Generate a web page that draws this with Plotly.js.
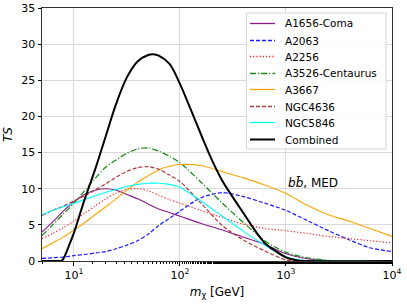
<!DOCTYPE html>
<html>
<head>
<meta charset="utf-8">
<script src="https://cdn.plot.ly/plotly-3.0.1.min.js"></script>
<style>html,body{margin:0;padding:0;background:#fff;}#chart{width:407px;height:305px;}</style>
</head>
<body>
<div id="chart"></div>
<script>
// Dark matter mass grid (GeV)
const mass = [5, 6.31, 7.94, 10, 12.6, 15.8, 20, 25.1, 31.6, 39.8, 50.1, 63.1, 79.4, 100, 158, 251, 398, 631, 1000, 1585, 2512, 3981, 6310, 10000];
const tsComa      = [4.0, 5.4, 6.9, 8.2, 9.2, 9.8, 10.0, 9.8, 9.2, 8.6, 7.9, 7.2, 6.7, 6.2, 5.2, 4.3, 3.3, 2.3, 1.0, 0.3, 0.05, 0, 0, 0];
const tsA2063     = [0.35, 0.45, 0.55, 0.75, 0.9, 1.1, 1.3, 1.7, 2.2, 2.8, 3.7, 4.9, 5.9, 6.9, 8.75, 9.45, 8.9, 8.0, 7.0, 5.6, 4.2, 2.9, 1.8, 1.3];
const tsA2256     = [3.1, 3.8, 4.6, 5.5, 6.6, 7.6, 8.6, 9.4, 9.9, 10.0, 9.7, 9.1, 8.5, 8.0, 7.0, 6.0, 5.1, 4.5, 4.2, 3.8, 3.4, 3.1, 2.8, 2.5];
const tsCentaurus = [3.5, 5.0, 6.5, 8.0, 9.7, 11.4, 13.0, 14.0, 14.9, 15.5, 15.65, 15.2, 14.5, 13.6, 10.9, 8.0, 5.3, 2.8, 1.2, 0.45, 0.1, 0, 0, 0];
const tsA3667     = [1.7, 2.5, 3.3, 4.3, 5.3, 6.4, 7.5, 8.6, 9.8, 10.9, 11.8, 12.6, 13.1, 13.35, 13.2, 12.35, 11.5, 10.5, 9.35, 7.7, 6.4, 5.5, 4.45, 3.4];
const tsNGC4636   = [6.3, 7.0, 7.6, 8.3, 9.0, 9.8, 10.7, 11.6, 12.4, 12.9, 13.05, 12.7, 11.9, 11.0, 8.0, 4.9, 2.9, 1.4, 0.15, 0, 0, 0, 0, 0];
const tsNGC5846   = [6.4, 7.0, 7.5, 8.0, 8.5, 9.0, 9.5, 9.9, 10.3, 10.6, 10.75, 10.75, 10.6, 10.2, 8.3, 6.2, 4.1, 2.2, 0.6, 0.05, 0, 0, 0, 0];
const massComb = [5, 6.31, 7.08, 7.59, 7.94, 8.91, 10, 12.6, 15.8, 20, 25.1, 31.6, 39.8, 50.1, 56.2, 63.1, 79.4, 100, 126, 158, 200, 251, 316, 398, 501, 631, 794, 1000, 1259, 1585, 10000];
const tsComb   = [0, 0, 0, 0, 0.3, 2.0, 3.9, 8.5, 12.6, 17.3, 21.8, 25.4, 27.6, 28.5, 28.6, 28.4, 27.3, 24.5, 21.0, 17.5, 14.0, 11.1, 8.8, 6.6, 4.4, 2.5, 1.4, 0.5, 0.1, 0, 0];

const names = ["A1656-Coma", "A2063", "A2256", "A3526-Centaurus", "A3667", "NGC4636", "NGC5846", "Combined"];
const series = [tsComa, tsA2063, tsA2256, tsCentaurus, tsA3667, tsNGC4636, tsNGC5846];
const colors = ["#8a1a8a", "#1a1aff", "#ff2020", "#108a10", "#ffa500", "#ad3a3a", "#00ffff", "#000000"];
const dashes = ["solid", "4px,2px", "1.2px,2px", "6px,2px,1.2px,2px", "solid", "4px,2px", "solid", "solid"];
const widths = [1.1, 1.2, 1.2, 1.2, 1.1, 1.2, 1.1, 2];
const xTickVals = [10, 100, 1000, 10000];
const xTickText = ["10<sup>1</sup>", "10<sup>2</sup>", "10<sup>3</sup>", "10<sup>4</sup>"];

const traces = series.map((ys, i) => ({
  x: mass, y: ys, name: names[i], type: "scatter", mode: "lines",
  line: {color: colors[i], width: widths[i], dash: dashes[i], shape: "spline", smoothing: 0.8},
  showlegend: false
}));
traces.push({
  x: massComb, y: tsComb, name: names[7], type: "scatter", mode: "lines",
  line: {color: colors[7], width: widths[7], shape: "spline", smoothing: 1},
  showlegend: false
});

// plot area in pixels, used to place the legend in paper coordinates
const W = 407, H = 305, M = {l: 42, r: 15, t: 8, b: 44};
const pw = W - M.l - M.r, ph = H - M.t - M.b;
const px = v => (v - M.l) / pw;
const py = v => (H - M.b - v) / ph;

const shapes = [{
  type: "rect", xref: "paper", yref: "paper",
  x0: px(246.5), x1: px(386), y0: py(149), y1: py(13),
  line: {color: "#d6d6d6", width: 1}, fillcolor: "rgba(255,255,255,0.85)", layer: "above"
}];
const annotations = [];
names.forEach((n, i) => {
  const yy = Math.round(23 + 16.5 * i) + 0.5;
  shapes.push({
    type: "line", xref: "paper", yref: "paper",
    x0: px(250), x1: px(275), y0: py(yy), y1: py(yy),
    line: {color: colors[i], width: widths[i] === 2 ? 2 : 1.3, dash: dashes[i]},
    layer: "above"
  });
  annotations.push({
    xref: "paper", yref: "paper", x: px(283), y: py(yy),
    xanchor: "left", yanchor: "middle", text: n, showarrow: false,
    font: {family: "DejaVu Sans, sans-serif", size: 10.5, color: "#000"}
  });
});
annotations.push({
  x: 3.0, y: 10.8, xref: "x", yref: "y", xanchor: "left", yanchor: "middle",
  text: "<i>b</i><i>b̄</i>, MED", showarrow: false,
  font: {family: "DejaVu Sans, sans-serif", size: 12, color: "#000"}
});

const font = {family: "DejaVu Sans, sans-serif", size: 11, color: "#000"};
const titleFont = {family: "DejaVu Sans, sans-serif", size: 12, color: "#000"};
const layout = {
  width: W, height: H,
  margin: M,
  paper_bgcolor: "#fff", plot_bgcolor: "#fff",
  font: font,
  showlegend: false,
  xaxis: {
    type: "log", range: [Math.log10(5), 4],
    tickvals: xTickVals, ticktext: xTickText,
    ticks: "outside", ticklen: 3.5, tickcolor: "#000",
    minor: {ticks: "outside", ticklen: 2, tickcolor: "#000", showgrid: false},
    showgrid: true, gridcolor: "#dadada", gridwidth: 1,
    showline: true, linecolor: "#333", linewidth: 1, mirror: true,
    zeroline: false,
    title: {text: "<i>m</i><sub>χ</sub> [GeV]", font: titleFont, standoff: 6}
  },
  yaxis: {
    range: [0, 35], dtick: 5, tick0: 0,
    ticks: "outside", ticklen: 3.5, tickcolor: "#000",
    showgrid: true, gridcolor: "#dadada", gridwidth: 1,
    showline: true, linecolor: "#333", linewidth: 1, mirror: true,
    zeroline: false,
    title: {text: "<i>TS</i>", font: titleFont, standoff: 6}
  },
  shapes: shapes,
  annotations: annotations
};

Plotly.newPlot("chart", traces, layout, {displayModeBar: false, staticPlot: true});
</script>
</body>
</html>
